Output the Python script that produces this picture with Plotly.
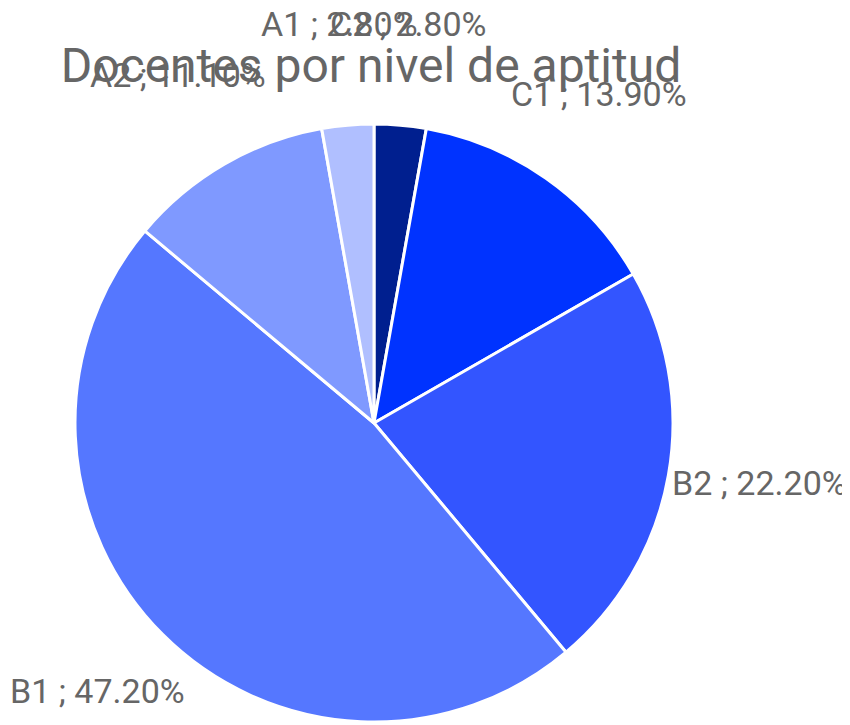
import math
import plotly.graph_objects as go

labels = ["C2", "C1", "B2", "B1", "A2", "A1"]
values = [2.8, 13.9, 22.2, 47.2, 11.1, 2.8]
colors = ["#001f8f", "#0033ff", "#3355ff", "#5577ff", "#7f99ff", "#b0bfff"]
title_text = "Docentes por nivel de aptitud"

fig = go.Figure(go.Pie(
    labels=labels, values=values, sort=False, direction="clockwise", rotation=0,
    marker=dict(colors=colors, line=dict(color="white", width=3)),
    textinfo="none", hoverinfo="label+percent", showlegend=False,
))

total = sum(values)
cum = 0.0
annotations = []
label_r = 0.655  # in paper units (pie radius = 0.5)
for lab, v in zip(labels, values):
    mid = (cum + v / 2) / total * 2 * math.pi
    cum += v
    annotations.append(dict(
        x=0.5 + label_r * math.sin(mid), y=0.5 + label_r * math.cos(mid),
        xref="paper", yref="paper", text=f"{lab} ; {v:.2f}%", showarrow=False,
        xanchor="center", yanchor="middle", yshift=9,
        font=dict(family="Roboto", size=34, color="#666666"),
    ))

fig.update_layout(
    width=850, height=725,
    margin=dict(l=67, r=185, t=116, b=11),
    paper_bgcolor="white", plot_bgcolor="white",
    title=dict(text=title_text, x=0.427, xanchor="center", y=1 - 57 / 725, yanchor="middle",
               yref="container", font=dict(family="Roboto", size=48, color="#666666")),
    annotations=annotations,
)

fig.write_html("out.html")
